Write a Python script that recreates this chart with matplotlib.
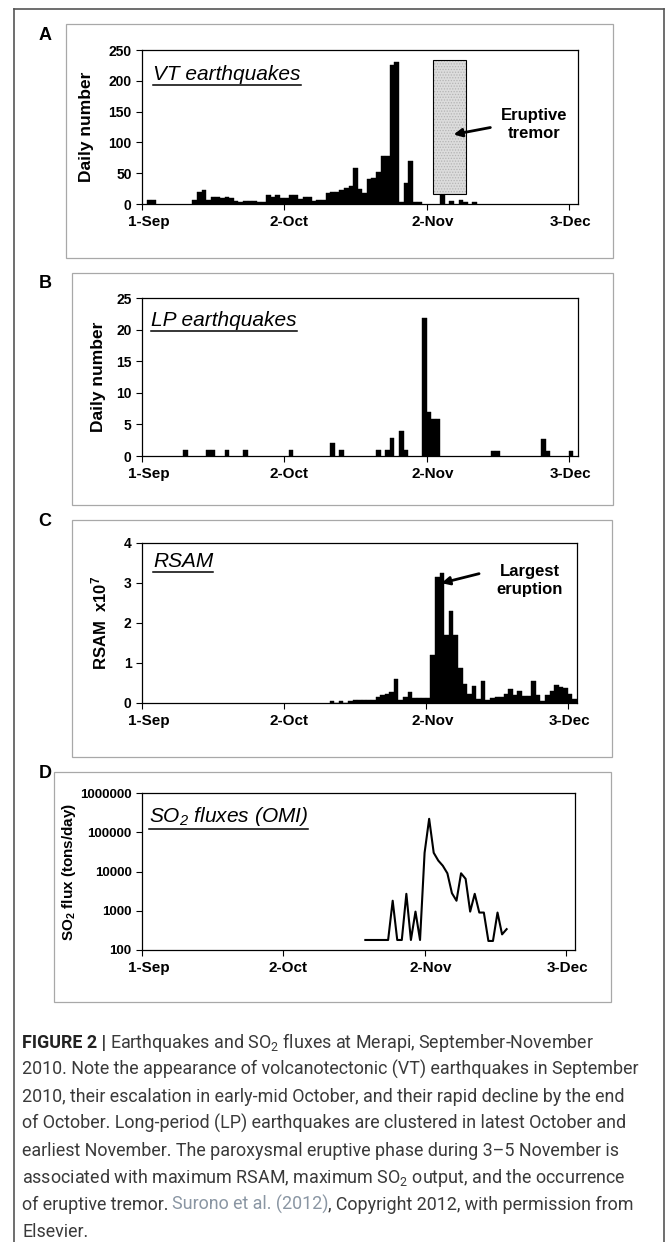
import matplotlib
matplotlib.use('Agg')
import matplotlib.pyplot as plt
from matplotlib.patches import Rectangle
from matplotlib.lines import Line2D

plt.rcParams['font.family'] = ['Liberation Sans', 'DejaVu Sans']
plt.rcParams['mathtext.default'] = 'regular'
plt.rcParams['hatch.linewidth'] = 0.6

W, H = 667, 1242

# ---- data (day 0 = 1 Sep 2010) ----
tick_days = [0, 31, 62, 93]
tick_labels = ['1-Sep', '2-Oct', '2-Nov', '3-Dec']

vt_days = [1, 2, 11, 12, 13, 14, 15, 16, 17, 18, 19, 20, 21, 22, 23, 24, 25, 26, 27, 28,
           29, 30, 31, 32, 33, 34, 35, 36, 37, 38, 39, 40, 41, 42, 43, 44, 45, 46, 47, 48,
           49, 50, 51, 52, 53, 54, 55, 56, 57, 58, 59, 60, 65, 67, 69, 70, 72]
vt_counts = [6, 6, 7, 19, 23, 6, 11, 11, 10, 12, 10, 5, 4, 5, 5, 5, 4, 3, 15, 12,
             14, 9, 9, 14, 14, 8, 11, 11, 5, 6, 7, 18, 20, 20, 22, 26, 30, 58, 24, 18,
             40, 42, 52, 78, 78, 225, 231, 3, 34, 70, 3, 3, 30, 5, 6, 3, 4]

lp_days = [9, 14, 15, 18, 22, 32, 41, 43, 51, 53, 54, 56, 57, 61, 62, 63, 64, 76, 77, 87, 88, 93]
lp_counts = [1, 1, 1, 1, 1, 1, 2, 1, 1, 1, 2.9, 3.9, 1, 21.8, 6.9, 5.9, 5.9, 0.8, 0.8, 2.7, 0.8, 0.8]

rsam_days = list(range(41, 95))
rsam = [0.05, 0, 0.05, 0, 0.06, 0.08, 0.08, 0.08, 0.08, 0.08,
        0.15, 0.2, 0.23, 0.28, 0.6, 0.07, 0.15, 0.27, 0.12, 0.12,
        0.12, 0.12, 1.2, 3.15, 3.25, 1.7, 2.3, 1.7, 0.88, 0.48,
        0.22, 0.43, 0.1, 0.55, 0.07, 0.12, 0.14, 0.14, 0.22, 0.35,
        0.2, 0.3, 0.18, 0.18, 0.56, 0.2, 0.05, 0.2, 0.3, 0.44,
        0.4, 0.38, 0.22, 0.1]

so2_days = list(range(49, 81))
so2_flux = [180, 180, 180, 180, 180, 180, 1800, 180, 180, 2700, 180, 950, 180, 30000,
            220000, 30000, 19000, 14000, 9000, 2800, 1800, 9000, 6500, 950, 2700, 900,
            900, 170, 170, 900, 250, 340]

# eruptive tremor period (days) and its vertical extent in the VT panel
tremor_span = (63.4, 70.7)
tremor_levels = (17, 234)

caption = [
    [('FIGURE 2 |', dict(fontweight='bold', color='#222222')),
     ('Earthquakes and SO$_2$ fluxes at Merapi, September-November', {})],
    [('2010. Note the appearance of volcanotectonic (VT) earthquakes in September', {})],
    [('2010, their escalation in early-mid October, and their rapid decline by the end', {})],
    [('of October. Long-period (LP) earthquakes are clustered in latest October and', {})],
    [('earliest November. The paroxysmal eruptive phase during 3\u20135 November is', {})],
    [('associated with maximum RSAM, maximum SO$_2$ output, and the occurrence', {})],
    [('of eruptive tremor.', {}), ('Surono et al. (2012)', dict(color='#8a96a3')),
     (', Copyright 2012, with permission from', {})],
    [('Elsevier.', {})],
]

fig = plt.figure(figsize=(W / 100, H / 100), dpi=100)


def rect(l, r, t, b):
    return [l / W, 1 - b / H, (r - l) / W, (b - t) / H]


def fline(xs, ys, **kw):
    fig.add_artist(Line2D([x / W for x in xs], [1 - y / H for y in ys], **kw))


# outer frame
fline([14, 14], [1242, 9], color='#555555', lw=1.2)
fline([14, 664], [9, 9], color='#555555', lw=1.2)
fline([664, 664], [9, 1242], color='#555555', lw=1.2)

# scanned panel boxes
for l, r, t, b in [(66, 613, 24, 258), (72, 613, 273, 505), (72, 612, 520, 757), (54, 611, 772, 1002)]:
    fig.add_artist(Rectangle((l / W, 1 - b / H), (r - l) / W, (b - t) / H, fill=False,
                             ec='#a8a8a8', lw=0.9, transform=fig.transFigure))

for letter, y in zip('ABCD', [35, 283, 521, 773]):
    fig.text(45 / W, 1 - y / H, letter, fontsize=13, fontweight='bold', ha='center', va='center')

label_shift = [1.4, 1.0, 1.4, 0.3]
AX_L, AX_W = 142, 436


def style(ax, ylabel, label_x, label_size, ytick_size=10):
    ax.set_xlim(0, 95)
    ax.set_xticks(tick_days)
    ax.set_xticklabels([])
    ax.set_xticks([d + s for d, s in zip(tick_days, label_shift)], minor=True)
    ax.set_xticklabels(tick_labels, minor=True, fontsize=11, fontweight='bold')
    ax.tick_params(axis='x', which='major', direction='out', length=4, width=0.8)
    ax.tick_params(axis='x', which='minor', length=0, pad=8)
    ax.tick_params(axis='y', which='minor', length=0)
    ax.tick_params(axis='y', which='major', direction='out', length=4, width=0.8,
                   labelsize=ytick_size)
    for lab in ax.get_yticklabels():
        lab.set_fontweight('bold')
    for sp in ax.spines.values():
        sp.set_linewidth(0.9)
    ax.set_ylabel(ylabel, fontsize=label_size, fontweight='bold')
    ax.yaxis.set_label_coords((label_x - AX_L) / AX_W, 0.5)
    ax.yaxis.label.set_verticalalignment('center')


titles = []

# A: VT earthquakes
axA = fig.add_axes(rect(142, 578, 50, 204))
axA.bar(vt_days, vt_counts, width=1, align='edge', color='black', ec='black', lw=0.3)
axA.set_ylim(0, 250)
axA.set_yticks([0, 50, 100, 150, 200, 250])
style(axA, 'Daily number', 86, 12.5)
box_xy = (tremor_span[0], tremor_levels[0])
box_w = tremor_span[1] - tremor_span[0]
box_h = tremor_levels[1] - tremor_levels[0]
axA.add_patch(Rectangle(box_xy, box_w, box_h, fc='#dcdcdc', ec='#b4b4b4', lw=0,
                        hatch='......', zorder=3))
axA.add_patch(Rectangle(box_xy, box_w, box_h, fill=False, ec='black', lw=0.8, zorder=4))
axA.text(85.5, 129, 'Eruptive\ntremor', fontsize=12, fontweight='bold', ha='center', va='center',
         linespacing=1.25)
axA.annotate('', xy=(67.3, 112), xytext=(76.5, 125),
             arrowprops=dict(arrowstyle='-|>', color='black', lw=2, mutation_scale=12), zorder=5)
titles.append(axA.text(2.5, 211, 'VT earthquakes', fontsize=15, fontstyle='italic', va='center'))

# B: LP earthquakes
axB = fig.add_axes(rect(142, 578, 298, 456))
axB.bar(lp_days, lp_counts, width=1, align='edge', color='black', ec='black', lw=0.3)
axB.set_ylim(0, 25)
axB.set_yticks([0, 5, 10, 15, 20, 25])
style(axB, 'Daily number', 98, 12.5)
titles.append(axB.text(2, 21.5, 'LP earthquakes', fontsize=15, fontstyle='italic', va='center'))

# C: RSAM
axC = fig.add_axes(rect(142, 577, 543, 703))
axC.bar(rsam_days, rsam, width=1, align='edge', color='black', ec='black', lw=0.3)
axC.set_ylim(0, 4)
axC.set_yticks([0, 1, 2, 3, 4])
style(axC, 'RSAM  x10$^7$', 99, 12)
axC.text(84.7, 3.07, 'Largest\neruption', fontsize=12, fontweight='bold', ha='center', va='center',
         linespacing=1.25)
axC.annotate('', xy=(64.8, 2.98), xytext=(74.2, 3.25),
             arrowprops=dict(arrowstyle='-|>', color='black', lw=2, mutation_scale=12), zorder=5)
titles.append(axC.text(2.4, 3.53, 'RSAM', fontsize=15, fontstyle='italic', va='center'))

# D: SO2 fluxes
axD = fig.add_axes(rect(142, 575, 793, 950))
axD.plot(so2_days, so2_flux, color='black', lw=1.5)
axD.set_yscale('log')
axD.set_ylim(100, 1e6)
axD.set_yticks([100, 1000, 10000, 100000, 1000000])
axD.set_yticklabels(['100', '1000', '10000', '100000', '1000000'])
style(axD, 'SO$_2$ flux (tons/day)', 68, 11, ytick_size=9.5)
titles.append(axD.text(1.5, 10 ** 5.4, 'SO$_2$ fluxes (OMI)', fontsize=15, fontstyle='italic',
                       va='center'))

fig.canvas.draw()
rend = fig.canvas.get_renderer()

# underline the panel titles
for t in titles:
    bb = t.get_window_extent(rend)
    fig.add_artist(Line2D([bb.x0 / W, bb.x1 / W], [(bb.y0 - 1) / H] * 2, color='black', lw=1.1))

# caption, sized so that the second line fills the column
cap_font = ['Roboto', 'DejaVu Sans']
probe = fig.text(0, 0, caption[1][0][0], fontsize=12, family=cap_font)
w = probe.get_window_extent(rend).width
probe.remove()
cap_size = 12 * 618 / w

for i, parts in enumerate(caption):
    y = 1 - (1048 + 27 * i) / H
    x = 22
    for j, (s, kw) in enumerate(parts):
        kw = dict(kw)
        kw.setdefault('color', '#3a3a3a')
        t = fig.text(x / W, y, s, fontsize=cap_size, family=cap_font, va='baseline', **kw)
        x = t.get_window_extent(rend).x1
        if j + 1 < len(parts) and not parts[j + 1][0].startswith(','):
            x += cap_size * 0.27

fig.savefig('out.png', dpi=100)
